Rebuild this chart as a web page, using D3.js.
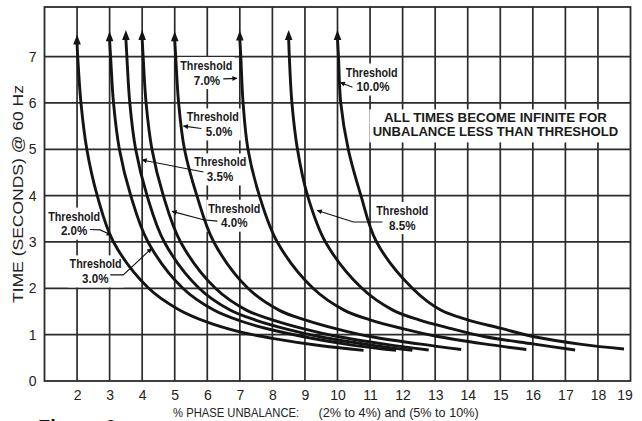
<!DOCTYPE html>
<html><head><meta charset="utf-8">
<script src="https://cdn.jsdelivr.net/npm/d3@7"></script>
<style>
html,body{margin:0;padding:0;background:#fff;}
svg{display:block;}
.cond{font-family:"Liberation Sans Narrow","Arial Narrow","Liberation Sans",Arial,sans-serif;}
</style></head>
<body>
<svg id="chart" width="642" height="421"></svg>
<script>
// ---- data ----
const xTicks = [2,3,4,5,6,7,8,9,10,11,12,13,14,15,16,17,18,19];
const yTicks = [0,1,2,3,4,5,6,7];
const thresholds = [2.0, 3.0, 3.5, 4.0, 5.0, 7.0, 8.5, 10.0];
const curve2_0  = [[2.0,7.28],[2.02,7],[2.12,6],[2.3,5],[2.62,4],[3.12,3],[4.2,2],[5.1,1.55],[6.0,1.27],[7.0,1.06],[8.0,0.92],[9.5,0.76],[10.8,0.66]];
const curve3_0  = [[3.0,7.35],[3.03,7],[3.12,6],[3.3,5],[3.65,4],[4.18,3],[5.25,2],[6.2,1.53],[7.0,1.3],[8.0,1.1],[9.0,0.95],[10.5,0.77],[11.8,0.66]];
const curve3_5  = [[3.5,7.38],[3.53,7],[3.62,6],[3.8,5],[4.15,4],[4.68,3],[5.75,2],[6.7,1.53],[7.5,1.31],[8.5,1.11],[9.5,0.95],[11.0,0.78],[12.3,0.66]];
const curve4_0  = [[4.0,7.38],[4.03,7],[4.12,6],[4.3,5],[4.65,4],[5.18,3],[6.25,2],[7.2,1.53],[8.0,1.32],[9.0,1.12],[10.0,0.96],[11.5,0.79],[12.8,0.67]];
const curve5_0  = [[5.0,7.35],[5.03,7],[5.12,6],[5.3,5],[5.68,4],[6.2,3],[7.25,2],[8.2,1.53],[9.0,1.32],[10.0,1.12],[11.0,0.96],[12.5,0.8],[13.8,0.68]];
const curve7_0  = [[7.0,7.37],[7.03,7],[7.1,6],[7.25,5],[7.6,4],[8.15,3],[9.25,2],[10.2,1.53],[11.0,1.32],[12.0,1.13],[13.0,0.97],[14.5,0.8],[15.8,0.68]];
const curve8_5  = [[8.5,7.38],[8.52,7],[8.6,6],[8.77,5],[9.08,4],[9.63,3],[10.75,2],[11.7,1.53],[12.5,1.32],[13.5,1.13],[14.5,0.96],[16.0,0.8],[17.3,0.67]];
const curve10_0 = [[10.0,7.38],[10.03,7],[10.1,6],[10.33,5],[10.72,4],[11.2,3],[12.3,2],[13.17,1.53],[14.0,1.32],[15.0,1.14],[16.0,0.96],[17.5,0.79],[18.8,0.69]];
const curves = [curve2_0, curve3_0, curve3_5, curve4_0, curve5_0, curve7_0, curve8_5, curve10_0];
const thresholdLabels = ["2.0%","3.0%","3.5%","4.0%","5.0%","7.0%","8.5%","10.0%"];
const noteLines = ["ALL TIMES BECOME INFINITE FOR","UNBALANCE LESS THAN THRESHOLD"];
const yTitle = "TIME (SECONDS) @ 60 Hz";
const xTitle1 = "% PHASE UNBALANCE:";
const xTitle2 = "(2% to 4%) and (5% to 10%)";
const figTitle = "Figure 6";

// ---- layout ----
const svg = d3.select("#chart");
const L = 44.5, R = 630.5, T = 7, B = 381;
const x = d3.scaleLinear().domain([1, 19]).range([L, R]);
const y = d3.scaleLinear().domain([0, 8.07]).range([B, T]);
const gridCol = "#2b2b2b", curveCol = "#141414";

// grid
const g = svg.append("g");
g.selectAll("line.v").data(xTicks.slice(0, -1)).join("line")
  .attr("x1", d => x(d)).attr("x2", d => x(d)).attr("y1", T).attr("y2", B)
  .attr("stroke", gridCol).attr("stroke-width", 1.7);
g.selectAll("line.h").data(yTicks.slice(1)).join("line")
  .attr("x1", L).attr("x2", R).attr("y1", d => y(d)).attr("y2", d => y(d))
  .attr("stroke", gridCol).attr("stroke-width", 1.7);
g.append("rect").attr("x", L).attr("y", T).attr("width", R - L).attr("height", B - T)
  .attr("fill", "none").attr("stroke", gridCol).attr("stroke-width", 1.8);

// axes (labels only)
const xAxis = svg.append("g").attr("transform", `translate(0,${B})`)
  .call(d3.axisBottom(x).tickValues(xTicks).tickSize(0).tickPadding(9).tickFormat(d3.format("d")));
xAxis.select(".domain").remove();
xAxis.selectAll("text").attr("class", "cond").attr("font-size", 14).attr("fill", "#222");
xAxis.selectAll(".tick:last-child text").attr("dx", -6);
const yAxis = svg.append("g").attr("transform", `translate(${L},0)`)
  .call(d3.axisLeft(y).tickValues(yTicks).tickSize(0).tickPadding(8).tickFormat(d3.format("d")));
yAxis.select(".domain").remove();
yAxis.selectAll("text").attr("class", "cond").attr("font-size", 14).attr("fill", "#222");

// axis titles
svg.append("text").attr("class", "cond").attr("transform", `translate(23,194) rotate(-90)`)
  .attr("text-anchor", "middle").attr("font-size", 14).attr("fill", "#222")
  .attr("textLength", 218).attr("lengthAdjust", "spacingAndGlyphs").text(yTitle);
svg.append("text").attr("class", "cond").attr("x", x(4.95)).attr("y", 417).attr("font-size", 13.5)
  .attr("fill", "#222").attr("textLength", 126).attr("lengthAdjust", "spacingAndGlyphs").text(xTitle1);
svg.append("text").attr("class", "cond").attr("x", x(9.42)).attr("y", 417).attr("font-size", 13.5)
  .attr("fill", "#222").attr("textLength", 160).attr("lengthAdjust", "spacingAndGlyphs").text(xTitle2);
svg.append("text").attr("x", 38).attr("y", 434).attr("font-family", "Liberation Sans, Arial, sans-serif")
  .attr("font-weight", "bold").attr("font-size", 20).attr("fill", "#111").text(figTitle);

// annotations (data units)
const notes = [
  {lab: 5, tx: 5.97, ty: 6.71, px: 5.99, arrow: [[6.49,6.52],[6.91,6.53]]},
  {lab: 7, tx: 11.05, ty: 6.57, px: 11.09, arrow: [[10.46,6.34],[10.09,6.44]]},
  {lab: 4, tx: 6.17, ty: 5.60, px: 6.36, arrow: [[5.82,5.45],[5.27,5.50]]},
  {lab: 2, tx: 6.40, ty: 4.63, px: 6.39, arrow: [[5.88,4.51],[4.0,4.77]]},
  {lab: 3, tx: 6.83, ty: 3.63, px: 6.83, arrow: [[6.31,3.45],[5.88,3.48],[4.92,3.66]]},
  {lab: 6, tx: 11.99, ty: 3.58, px: 11.99, arrow: [[11.38,3.43],[10.49,3.43],[9.38,3.68]]},
  {lab: 0, tx: 1.91, ty: 3.46, px: 1.91, arrow: [[2.40,3.27],[2.71,3.26],[3.05,3.15]]},
  {lab: 1, tx: 2.57, ty: 2.43, px: 2.56, arrow: [[3.02,2.29],[3.42,2.29],[4.29,2.86]]}
];
const boxes = svg.append("g");
// white knock-out boxes
notes.forEach(n => {
  const cx = x(n.tx), by = y(n.ty);
  boxes.append("rect").attr("x", cx - 28).attr("y", by - 13).attr("width", 56).attr("height", 32).attr("fill", "#fff");
});
boxes.append("rect").attr("x", x(14.85) - 126).attr("y", y(5.58) - 13).attr("width", 252).attr("height", 33).attr("fill", "#fff");

// curves
const line = d3.line().x(d => x(d[0])).y(d => y(d[1])).curve(d3.curveCatmullRom.alpha(0.5));
svg.append("g").selectAll("path").data(curves).join("path")
  .attr("d", line).attr("fill", "none").attr("stroke", curveCol).attr("stroke-width", 2.9)
  .attr("stroke-linecap", "butt");
// arrowheads at curve tops
svg.append("g").selectAll("path").data(curves).join("path")
  .attr("d", c => {
    const bx = x(c[0][0]), by = y(c[0][1]) + 1;
    return `M${bx - 3.8},${by} L${bx},${by - 10} L${bx + 3.8},${by} Z`;
  }).attr("fill", curveCol);

// annotation text and leaders
svg.append("defs").append("marker").attr("id", "ah").attr("viewBox", "0 0 10 10")
  .attr("refX", 9).attr("refY", 5).attr("markerWidth", 7).attr("markerHeight", 5)
  .attr("orient", "auto").attr("markerUnits", "userSpaceOnUse")
  .append("path").attr("d", "M0,0 L10,5 L0,10 Z").attr("fill", "#111");
const ann = svg.append("g");
notes.forEach(n => {
  ann.append("text").attr("class", "cond").attr("x", x(n.tx)).attr("y", y(n.ty))
    .attr("text-anchor", "middle").attr("font-size", 13.5).attr("font-weight", "bold").attr("fill", "#1a1a1a")
    .attr("textLength", 52).attr("lengthAdjust", "spacingAndGlyphs").text("Threshold");
  const lbl = thresholdLabels[n.lab];
  ann.append("text").attr("class", "cond").attr("x", x(n.px)).attr("y", y(n.ty) + 14.7)
    .attr("text-anchor", "middle").attr("font-size", 13.5).attr("font-weight", "bold").attr("fill", "#1a1a1a")
    .attr("textLength", lbl.length > 4 ? 33 : 26.5).attr("lengthAdjust", "spacingAndGlyphs").text(lbl);
  ann.append("path").attr("d", d3.line().x(d => x(d[0])).y(d => y(d[1]))(n.arrow))
    .attr("fill", "none").attr("stroke", "#111").attr("stroke-width", 1.1).attr("marker-end", "url(#ah)");
});
noteLines.forEach((t, i) => {
  ann.append("text").attr("x", x(14.85)).attr("y", y(5.58) + i * 14)
    .attr("text-anchor", "middle").attr("font-family", "Liberation Sans, Arial, sans-serif")
    .attr("font-size", 12.5).attr("font-weight", "bold").attr("fill", "#1a1a1a")
    .attr("textLength", i === 0 ? 223 : 245.5).attr("lengthAdjust", "spacingAndGlyphs").text(t);
});
</script>
</body></html>
